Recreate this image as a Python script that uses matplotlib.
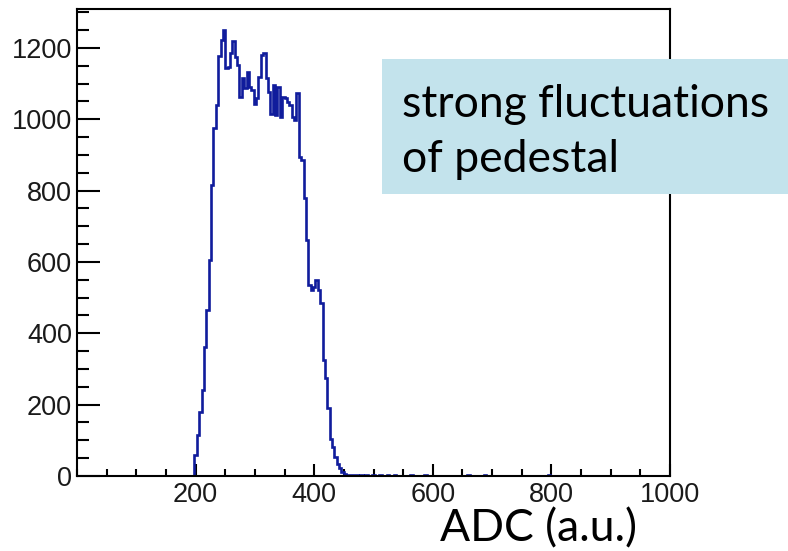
import numpy as np
import matplotlib
matplotlib.use("Agg")
import matplotlib.pyplot as plt
from matplotlib.patches import Rectangle
from matplotlib.ticker import MultipleLocator, FixedLocator

# ---------------- data ----------------
bin_width = 4
main_start = 198            # left edge of first filled bin (ADC)
main_counts = [
    60, 115, 180, 241, 362, 465, 606, 816, 975, 1039, 1176, 1222, 1250,
    1143, 1147, 1185, 1218, 1175, 1152, 1063, 1115, 1087, 1133, 1091, 1082, 1044,
    1060, 1119, 1180, 1185, 1115, 1077, 1016, 1096, 1012, 1091, 1007, 1063, 1059,
    1049, 1040, 1007, 998, 1073, 895, 886, 780, 662, 535, 522, 530, 550,
    520, 484, 325, 274, 190, 105, 80, 54, 35, 22, 12, 6,
]
tail_bins = [454, 458, 462, 466, 470, 474, 478, 482, 486, 490, 494, 498, 502,
             506, 510, 514, 518, 522, 526, 530, 534, 538, 542,
             558, 562, 570, 578, 586, 626, 630,
             654, 658, 666, 674, 678, 686, 694, 734, 746,
             786, 794, 802, 870, 922]
tail_counts = [4, 3, 2, 3, 2, 1, 2, 1, 2, 1, 1, 2, 1,
               1, 2, 1, 1, 2, 1, 1, 2, 1, 1,
               1, 2, 1, 1, 2, 1, 1,
               1, 2, 1, 1, 1, 2, 1, 1, 1,
               1, 2, 1, 1, 1]

x_major_ticks = [200, 400, 600, 800, 1000]
y_major_ticks = [0, 200, 400, 600, 800, 1000, 1200]
x_label = "ADC (a.u.)"
note_lines = ["strong fluctuations", "of pedestal"]

# ---------------- build histogram ----------------
edges = np.arange(-2, 1006, bin_width)
counts = np.zeros(len(edges) - 1)
i0 = (main_start - edges[0]) // bin_width
counts[i0:i0 + len(main_counts)] = main_counts
for b, c in zip(tail_bins, tail_counts):
    counts[(b - edges[0]) // bin_width] = c

# ---------------- figure ----------------
W, H = 788, 551
fig = plt.figure(figsize=(W / 100, H / 100), dpi=100)
L, R, T, B = 77, 670, 9, 476
ax = fig.add_axes([L / W, 1 - B / H, (R - L) / W, (B - T) / H])

line_color = "#101c9c"
# draw each contiguous run of filled bins as a step outline
nz = counts > 0
idx = np.flatnonzero(nz)
runs = np.split(idx, np.where(np.diff(idx) != 1)[0] + 1)
for r in runs:
    ax.stairs(counts[r[0]:r[-1] + 1], edges[r[0]:r[-1] + 2], baseline=0,
              color=line_color, lw=1.9, zorder=2)

ax.set_xlim(0, 1000)
ax.set_ylim(0, 1309)

for s in ax.spines.values():
    s.set_linewidth(1.5)
    s.set_color("black")
    s.set_zorder(3)

ax.xaxis.set_major_locator(FixedLocator(x_major_ticks))
ax.xaxis.set_minor_locator(MultipleLocator(50))
ax.yaxis.set_major_locator(FixedLocator(y_major_ticks))
ax.yaxis.set_minor_locator(MultipleLocator(50))

tick_font = dict(family="Liberation Sans", size=19.5)
ax.tick_params(axis="y", which="major", direction="in", length=16.5, width=1.5, pad=3.5)
ax.tick_params(axis="y", which="minor", direction="in", length=8.5, width=1.5)
ax.tick_params(axis="x", which="major", direction="in", length=8.6, width=1.5, pad=4)
ax.tick_params(axis="x", which="minor", direction="in", length=5, width=1.5)
ax.tick_params(top=False, right=False, which="both")
for lab in ax.get_xticklabels() + ax.get_yticklabels():
    lab.set_fontfamily("Liberation Sans")
    lab.set_fontsize(19.5)
    lab.set_color("#1a1a1a")

# x axis label placed under the right part of the axis
fig.text(538 / W, 1 - 541.7 / H, x_label, family="Lato", fontsize=32,
         ha="center", va="baseline", color="black")

# annotation box
box = Rectangle((382 / W, 1 - 194.3 / H), (W - 382) / W, (194.3 - 59.3) / H,
                transform=fig.transFigure, facecolor="#c3e3ec",
                edgecolor="none", zorder=5)
fig.add_artist(box)
for k, (txt, base) in enumerate(zip(note_lines, [116.7, 171.7])):
    fig.text(402 / W, 1 - base / H, txt, family="Lato", fontsize=32,
             ha="left", va="baseline", color="black", zorder=6)

fig.savefig("out.png", dpi=100)
